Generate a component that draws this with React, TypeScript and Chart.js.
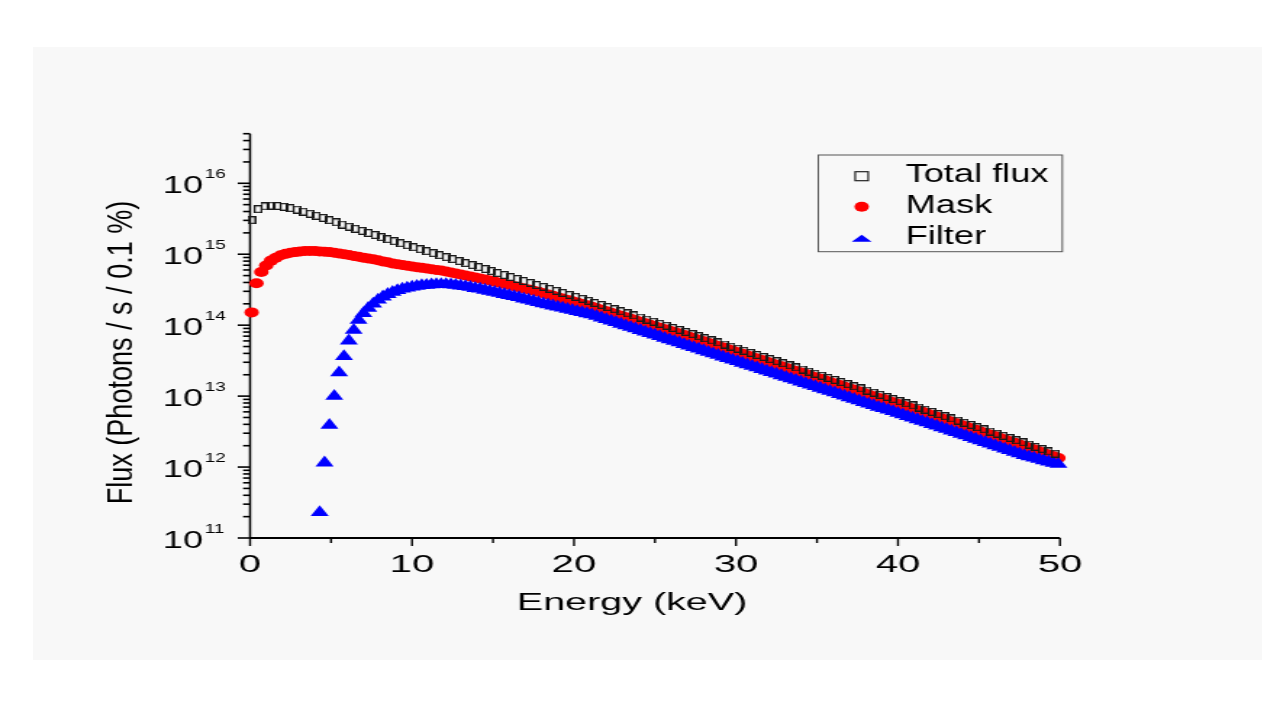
import React, { useEffect, useRef } from 'react';
import { Chart, registerables } from 'chart.js';

Chart.register(...registerables);

// ---------------- DATA ----------------
// Total flux sampled every 0.4 keV (keV)
const ENERGY_TOTAL = [
  0.1, 0.5, 0.9, 1.3, 1.7, 2.1, 2.5, 2.9, 3.3, 3.7,
  4.1, 4.5, 4.9, 5.3, 5.7, 6.1, 6.5, 6.9, 7.3, 7.7,
  8.1, 8.5, 8.9, 9.3, 9.7, 10.1, 10.5, 10.9, 11.3, 11.7,
  12.1, 12.5, 12.9, 13.3, 13.7, 14.1, 14.5, 14.9, 15.3, 15.7,
  16.1, 16.5, 16.9, 17.3, 17.7, 18.1, 18.5, 18.9, 19.3, 19.7,
  20.1, 20.5, 20.9, 21.3, 21.7, 22.1, 22.5, 22.9, 23.3, 23.7,
  24.1, 24.5, 24.9, 25.3, 25.7, 26.1, 26.5, 26.9, 27.3, 27.7,
  28.1, 28.5, 28.9, 29.3, 29.7, 30.1, 30.5, 30.9, 31.3, 31.7,
  32.1, 32.5, 32.9, 33.3, 33.7, 34.1, 34.5, 34.9, 35.3, 35.7,
  36.1, 36.5, 36.9, 37.3, 37.7, 38.1, 38.5, 38.9, 39.3, 39.7,
  40.1, 40.5, 40.9, 41.3, 41.7, 42.1, 42.5, 42.9, 43.3, 43.7,
  44.1, 44.5, 44.9, 45.3, 45.7, 46.1, 46.5, 46.9, 47.3, 47.7,
  48.1, 48.5, 48.9, 49.3, 49.7,
];
// log10 of total flux (photons / s / 0.1 %)
const TOTAL_FLUX_LOG10 = [
  15.48, 15.635, 15.675, 15.685, 15.68, 15.668, 15.65, 15.628, 15.6, 15.57,
  15.542, 15.512, 15.48, 15.45, 15.418, 15.388, 15.359, 15.329, 15.3, 15.271,
  15.241, 15.212, 15.183, 15.155, 15.127, 15.099, 15.071, 15.043, 15.015, 14.987,
  14.959, 14.931, 14.903, 14.875, 14.847, 14.819, 14.791, 14.763, 14.735, 14.707,
  14.679, 14.651, 14.623, 14.595, 14.567, 14.539, 14.511, 14.483, 14.455, 14.427,
  14.399, 14.371, 14.343, 14.313, 14.284, 14.255, 14.225, 14.196, 14.167, 14.137,
  14.108, 14.079, 14.049, 14.02, 13.991, 13.961, 13.932, 13.903, 13.873, 13.844,
  13.815, 13.785, 13.756, 13.727, 13.697, 13.668, 13.639, 13.609, 13.58, 13.551,
  13.521, 13.492, 13.463, 13.433, 13.404, 13.375, 13.345, 13.316, 13.287, 13.257,
  13.228, 13.198, 13.168, 13.138, 13.108, 13.078, 13.048, 13.018, 12.988, 12.958,
  12.928, 12.898, 12.868, 12.838, 12.808, 12.777, 12.746, 12.716, 12.685, 12.654,
  12.624, 12.593, 12.562, 12.532, 12.501, 12.47, 12.44, 12.409, 12.378, 12.348,
  12.316, 12.284, 12.252, 12.22, 12.188,
];

// Mask and Filter sampled every 0.3 keV (keV)
const ENERGY = [
  0.1, 0.4, 0.7, 1.0, 1.3, 1.6, 1.9, 2.2, 2.5, 2.8,
  3.1, 3.4, 3.7, 4.0, 4.3, 4.6, 4.9, 5.2, 5.5, 5.8,
  6.1, 6.4, 6.7, 7.0, 7.3, 7.6, 7.9, 8.2, 8.5, 8.8,
  9.1, 9.4, 9.7, 10.0, 10.3, 10.6, 10.9, 11.2, 11.5, 11.8,
  12.1, 12.4, 12.7, 13.0, 13.3, 13.6, 13.9, 14.2, 14.5, 14.8,
  15.1, 15.4, 15.7, 16.0, 16.3, 16.6, 16.9, 17.2, 17.5, 17.8,
  18.1, 18.4, 18.7, 19.0, 19.3, 19.6, 19.9, 20.2, 20.5, 20.8,
  21.1, 21.4, 21.7, 22.0, 22.3, 22.6, 22.9, 23.2, 23.5, 23.8,
  24.1, 24.4, 24.7, 25.0, 25.3, 25.6, 25.9, 26.2, 26.5, 26.8,
  27.1, 27.4, 27.7, 28.0, 28.3, 28.6, 28.9, 29.2, 29.5, 29.8,
  30.1, 30.4, 30.7, 31.0, 31.3, 31.6, 31.9, 32.2, 32.5, 32.8,
  33.1, 33.4, 33.7, 34.0, 34.3, 34.6, 34.9, 35.2, 35.5, 35.8,
  36.1, 36.4, 36.7, 37.0, 37.3, 37.6, 37.9, 38.2, 38.5, 38.8,
  39.1, 39.4, 39.7, 40.0, 40.3, 40.6, 40.9, 41.2, 41.5, 41.8,
  42.1, 42.4, 42.7, 43.0, 43.3, 43.6, 43.9, 44.2, 44.5, 44.8,
  45.1, 45.4, 45.7, 46.0, 46.3, 46.6, 46.9, 47.2, 47.5, 47.8,
  48.1, 48.4, 48.7, 49.0, 49.3, 49.6, 49.9,
];
const MASK_FLUX_LOG10 = [
  14.18, 14.59, 14.75, 14.84, 14.91, 14.95, 14.985, 15.005, 15.02, 15.03,
  15.04, 15.045, 15.045, 15.045, 15.04, 15.035, 15.03, 15.02, 15.01, 15.0,
  14.988, 14.976, 14.964, 14.952, 14.94, 14.928, 14.916, 14.899, 14.887, 14.87,
  14.859, 14.848, 14.838, 14.828, 14.818, 14.808, 14.798, 14.788, 14.779, 14.77,
  14.756, 14.742, 14.728, 14.714, 14.7, 14.686, 14.672, 14.658, 14.644, 14.63,
  14.614, 14.598, 14.582, 14.566, 14.55, 14.534, 14.518, 14.502, 14.486, 14.47,
  14.451, 14.432, 14.413, 14.394, 14.375, 14.356, 14.337, 14.318, 14.299, 14.28,
  14.259, 14.238, 14.217, 14.196, 14.175, 14.154, 14.133, 14.112, 14.091, 14.07,
  14.049, 14.028, 14.007, 13.986, 13.965, 13.944, 13.923, 13.902, 13.881, 13.86,
  13.838, 13.816, 13.794, 13.772, 13.75, 13.728, 13.706, 13.684, 13.662, 13.64,
  13.618, 13.596, 13.574, 13.552, 13.53, 13.508, 13.486, 13.464, 13.442, 13.42,
  13.398, 13.376, 13.354, 13.332, 13.31, 13.288, 13.266, 13.244, 13.222, 13.2,
  13.178, 13.155, 13.133, 13.11, 13.088, 13.065, 13.043, 13.02, 12.998, 12.975,
  12.958, 12.935, 12.913, 12.89, 12.868, 12.845, 12.823, 12.8, 12.778, 12.755,
  12.732, 12.709, 12.686, 12.663, 12.64, 12.617, 12.594, 12.571, 12.548, 12.525,
  12.502, 12.479, 12.456, 12.433, 12.41, 12.387, 12.364, 12.341, 12.318, 12.295,
  12.271, 12.247, 12.223, 12.199, 12.175, 12.151, 12.127,
];
const FILTER_FLUX_LOG10 = [
  null, null, null, null, null, null, null, null, null, null,
  null, null, null, null, 11.36, 12.06, 12.59, 13.0, 13.33, 13.56,
  13.78, 13.93, 14.07, 14.165, 14.24, 14.3, 14.355, 14.4, 14.435, 14.465,
  14.49, 14.51, 14.525, 14.54, 14.55, 14.56, 14.565, 14.57, 14.575, 14.575,
  14.575, 14.57, 14.565, 14.555, 14.545, 14.535, 14.52, 14.51, 14.495, 14.48,
  14.465, 14.45, 14.435, 14.42, 14.405, 14.39, 14.37, 14.355, 14.34, 14.32,
  14.304, 14.289, 14.273, 14.257, 14.242, 14.226, 14.211, 14.195, 14.179, 14.164,
  14.148, 14.126, 14.104, 14.082, 14.06, 14.038, 14.016, 13.994, 13.972, 13.95,
  13.928, 13.906, 13.884, 13.862, 13.84, 13.818, 13.796, 13.774, 13.752, 13.73,
  13.708, 13.686, 13.664, 13.642, 13.62, 13.598, 13.576, 13.554, 13.532, 13.51,
  13.488, 13.466, 13.444, 13.422, 13.4, 13.378, 13.356, 13.334, 13.312, 13.29,
  13.268, 13.246, 13.224, 13.202, 13.18, 13.158, 13.136, 13.114, 13.092, 13.07,
  13.048, 13.025, 13.003, 12.98, 12.958, 12.935, 12.913, 12.89, 12.868, 12.845,
  12.828, 12.805, 12.783, 12.76, 12.738, 12.715, 12.693, 12.67, 12.648, 12.625,
  12.602, 12.579, 12.556, 12.533, 12.51, 12.487, 12.464, 12.441, 12.418, 12.395,
  12.372, 12.349, 12.326, 12.303, 12.28, 12.257, 12.234, 12.211, 12.188, 12.165,
  12.146, 12.128, 12.11, 12.092, 12.074, 12.056, 12.04,
];

const SERIES_NAMES = ['Total flux', 'Mask', 'Filter'];
const X_MAJOR_TICKS = [0, 10, 20, 30, 40, 50];
const X_MINOR_TICKS = [5, 15, 25, 35, 45];
const Y_DECADES = [11, 12, 13, 14, 15, 16];
const Y_MIN = 1e11;
const Y_MAX = 5e16;
const X_TITLE = 'Energy (keV)';
const Y_TITLE = 'Flux (Photons / s / 0.1 %)';

// ---------------- LAYOUT ----------------
// The reference is horizontally stretched; we draw on a narrower canvas and stretch it via CSS.
const CW = 883;
const CH = 720;
const SX = 1280 / CW;
const FONT = '"Liberation Sans", Arial, Helvetica, sans-serif';
const ix = (screenX: number) => screenX / SX;

function drawText(ctx: CanvasRenderingContext2D, s: string, x: number, y: number, size: number, align: CanvasTextAlign = 'left', sx = 1) {
  ctx.save();
  ctx.font = `${size}px ${FONT}`;
  ctx.textAlign = align;
  ctx.textBaseline = 'alphabetic';
  ctx.fillStyle = '#000';
  ctx.translate(x, y);
  ctx.scale(sx, 1);
  ctx.fillText(s, 0, 0);
  ctx.restore();
}

function drawFitted(ctx: CanvasRenderingContext2D, s: string, cx: number, cy: number, size: number, inkLen: number, rotate: boolean) {
  ctx.save();
  ctx.font = `${size}px ${FONT}`;
  const m = ctx.measureText(s);
  const w = m.actualBoundingBoxLeft + m.actualBoundingBoxRight;
  const k = inkLen / w;
  ctx.translate(cx, cy);
  if (rotate) ctx.rotate(-Math.PI / 2);
  ctx.scale(k, 1);
  ctx.textAlign = 'center';
  ctx.textBaseline = 'alphabetic';
  ctx.fillStyle = '#000';
  ctx.fillText(s, 0, 0);
  ctx.restore();
}

const axesPlugin = {
  id: 'originAxes',
  beforeDatasetsDraw(chart: any) {
    const { ctx, chartArea: a, scales } = chart;
    const xs = scales.x;
    const ys = scales.y;
    ctx.save();
    ctx.strokeStyle = '#000';
    ctx.lineCap = 'butt';
    // axis lines
    ctx.lineWidth = 1.5;
    ctx.beginPath();
    ctx.moveTo(a.left, a.top);
    ctx.lineTo(a.left, a.bottom);
    ctx.stroke();
    ctx.lineWidth = 2;
    ctx.beginPath();
    ctx.moveTo(a.left, a.bottom);
    ctx.lineTo(a.right, a.bottom);
    ctx.stroke();
    // x ticks
    ctx.lineWidth = 1.4;
    X_MAJOR_TICKS.forEach((v) => {
      const px = xs.getPixelForValue(v);
      ctx.beginPath();
      ctx.moveTo(px, a.bottom);
      ctx.lineTo(px, a.bottom + 8);
      ctx.stroke();
    });
    X_MINOR_TICKS.forEach((v) => {
      const px = xs.getPixelForValue(v);
      ctx.beginPath();
      ctx.moveTo(px, a.bottom);
      ctx.lineTo(px, a.bottom + 5);
      ctx.stroke();
    });
    // y ticks
    ctx.lineWidth = 1.6;
    Y_DECADES.forEach((n) => {
      const py = ys.getPixelForValue(Math.pow(10, n));
      ctx.beginPath();
      ctx.moveTo(a.left, py);
      ctx.lineTo(a.left - 8.5, py);
      ctx.stroke();
      for (let m = 2; m <= 9; m++) {
        const v = m * Math.pow(10, n);
        if (v > Y_MAX * 1.0001) break;
        const p = ys.getPixelForValue(v);
        ctx.beginPath();
        ctx.moveTo(a.left, p);
        ctx.lineTo(a.left - 4.8, p);
        ctx.stroke();
      }
    });
    ctx.restore();
  },
  afterDraw(chart: any) {
    const { ctx, scales } = chart;
    const xs = scales.x;
    const ys = scales.y;
    // x tick labels
    X_MAJOR_TICKS.forEach((v) => {
      drawText(ctx, String(v), xs.getPixelForValue(v), 572, 24, 'center', 1.15);
    });
    // y tick labels 10^n
    Y_DECADES.forEach((n) => {
      const py = ys.getPixelForValue(Math.pow(10, n));
      drawText(ctx, '10', ix(203), py + 10, 24, 'right', 1.04);
      drawText(ctx, String(n), ix(204.7), py - 5, 13, 'left', 1.0);
    });
    // axis titles
    drawFitted(ctx, X_TITLE, ix(632), 610, 23, ix(746) - ix(518.3), false);
    drawFitted(ctx, Y_TITLE, ix(131.7), 352.5, 23, 301.6, true);

    // legend
    ctx.save();
    const bx0 = ix(818.3), bx1 = ix(1062.3), by0 = 155, by1 = 251.7;
    ctx.strokeStyle = '#555';
    ctx.lineWidth = 1;
    ctx.strokeRect(bx0, by0, bx1 - bx0, by1 - by0);
    const mx = ix(861.7);
    // square
    ctx.strokeStyle = '#222';
    ctx.lineWidth = 1.2;
    ctx.strokeRect(mx - 4.5, 176.2 - 4.5, 9, 9);
    // circle
    ctx.fillStyle = '#ff0000';
    ctx.beginPath();
    ctx.arc(mx, 206.7, 5, 0, Math.PI * 2);
    ctx.fill();
    // triangle
    ctx.fillStyle = '#0000ff';
    ctx.beginPath();
    ctx.moveTo(mx, 238.3 - 3.6);
    ctx.lineTo(mx + 6.9, 238.3 + 3.4);
    ctx.lineTo(mx - 6.9, 238.3 + 3.4);
    ctx.closePath();
    ctx.fill();
    ctx.restore();
    const tx = ix(905.5);
    drawText(ctx, SERIES_NAMES[0], tx, 182.3, 25);
    drawText(ctx, SERIES_NAMES[1], tx, 213.3, 25);
    drawText(ctx, SERIES_NAMES[2], tx, 244.3, 25);
  },
};

function makeSquareMarker() {
  const c = document.createElement('canvas');
  c.width = 6;
  c.height = 8;
  const g = c.getContext('2d')!;
  g.strokeStyle = '#1a1a1a';
  g.lineWidth = 1.3;
  g.strokeRect(0.65, 0.65, 4.7, 6.7);
  return c;
}

export default function App() {
  const ref = useRef<HTMLCanvasElement>(null);

  useEffect(() => {
    if (!ref.current) return;
    const toPoints = (xs: number[], ls: (number | null)[]) =>
      xs
        .map((x, i) => ({ x, l: ls[i] }))
        .filter((p) => p.l !== null && p.l !== undefined)
        .map((p) => ({ x: p.x, y: Math.pow(10, p.l as number) }));

    const square = makeSquareMarker();
    const chart = new Chart(ref.current, {
      type: 'scatter',
      data: {
        datasets: [
          {
            label: SERIES_NAMES[0],
            data: toPoints(ENERGY_TOTAL, TOTAL_FLUX_LOG10),
            pointStyle: square as any,
            pointRadius: 4,
            pointBackgroundColor: 'rgba(0,0,0,0)',
            pointBorderColor: '#1a1a1a',
            pointBorderWidth: 0,
            clip: false as any,
          },
          {
            label: SERIES_NAMES[2],
            data: toPoints(ENERGY, FILTER_FLUX_LOG10),
            pointStyle: 'triangle',
            pointRadius: 7.2,
            pointBackgroundColor: '#0000ff',
            pointBorderColor: '#0000ff',
            pointBorderWidth: 0,
            clip: false as any,
          },
          {
            label: SERIES_NAMES[1],
            data: toPoints(ENERGY, MASK_FLUX_LOG10),
            pointStyle: 'circle',
            pointRadius: 5,
            pointBackgroundColor: '#ff0000',
            pointBorderColor: '#ff0000',
            pointBorderWidth: 0,
            clip: false as any,
          },
        ],
      },
      options: {
        responsive: false,
        animation: false,
        devicePixelRatio: 1,
        events: [],
        layout: {
          padding: {
            left: ix(250),
            right: CW - ix(1060),
            top: 133.7,
            bottom: CH - 538,
          },
        },
        scales: {
          x: { type: 'linear', display: false, min: 0, max: 50 },
          y: { type: 'logarithmic', display: false, min: Y_MIN, max: Y_MAX },
        },
        plugins: {
          legend: { display: false },
          tooltip: { enabled: false },
        },
      },
      plugins: [axesPlugin],
    });
    return () => chart.destroy();
  }, []);

  return (
    <div style={{ position: 'fixed', left: 0, top: 0, width: 1280, height: 720, background: '#ffffff', overflow: 'hidden' }}>
      <div style={{ position: 'absolute', left: 33, top: 47, width: 1229, height: 613, background: '#f8f8f8' }} />
      <canvas
        ref={ref}
        width={CW}
        height={CH}
        style={{ position: 'absolute', left: 0, top: 0, width: '1280px', height: '720px' }}
      />
    </div>
  );
}
